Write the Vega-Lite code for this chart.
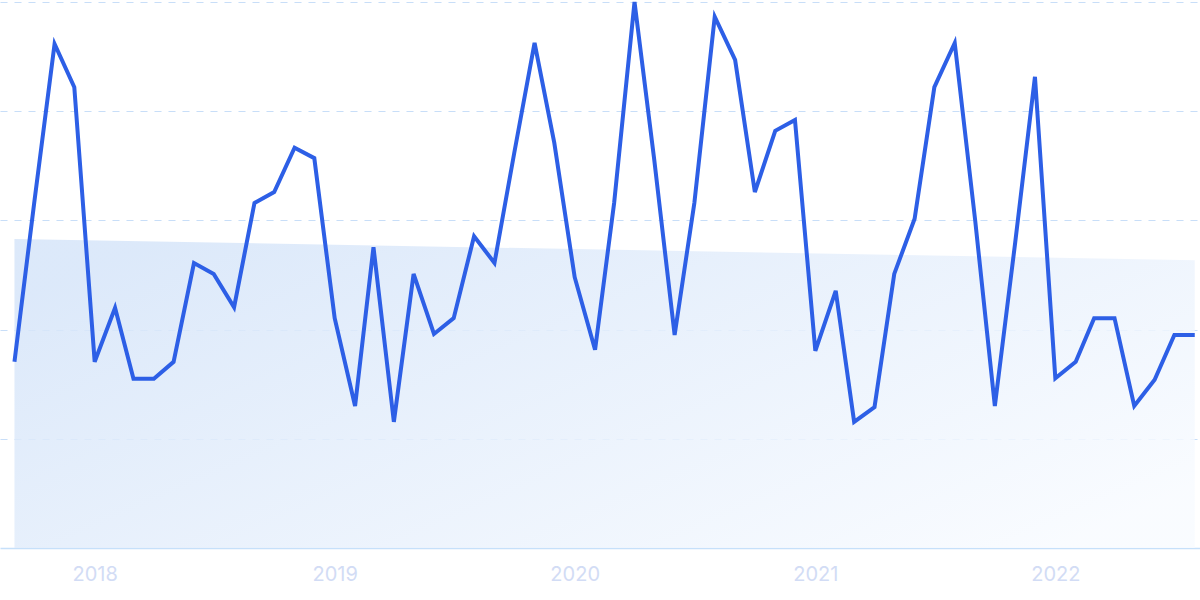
{
  "$schema": "https://vega.github.io/schema/vega-lite/v6.json",
  "width": 1200,
  "height": 546,
  "autosize": {"type": "none"},
  "padding": {"left": 0, "top": 2, "right": 0, "bottom": 52},
  "background": "white",
  "config": {"view": {"stroke": null}},
  "datasets": {
    "trend": [
      {"month": "2017-09-01", "value": 56.6},
      {"month": "2022-08-01", "value": 52.7}
    ],
    "series": [
      {"month": "2017-09-01", "value": 34.1},
      {"month": "2017-10-01", "value": 63.2},
      {"month": "2017-11-01", "value": 92.3},
      {"month": "2017-12-01", "value": 84.4},
      {"month": "2018-01-01", "value": 34.1},
      {"month": "2018-02-01", "value": 44.0},
      {"month": "2018-03-01", "value": 31.0},
      {"month": "2018-04-01", "value": 31.0},
      {"month": "2018-05-01", "value": 34.1},
      {"month": "2018-06-01", "value": 52.2},
      {"month": "2018-07-01", "value": 50.2},
      {"month": "2018-08-01", "value": 44.1},
      {"month": "2018-09-01", "value": 63.2},
      {"month": "2018-10-01", "value": 65.2},
      {"month": "2018-11-01", "value": 73.3},
      {"month": "2018-12-01", "value": 71.4},
      {"month": "2019-01-01", "value": 42.1},
      {"month": "2019-02-01", "value": 26.0},
      {"month": "2019-03-01", "value": 55.1},
      {"month": "2019-04-01", "value": 23.1},
      {"month": "2019-05-01", "value": 50.2},
      {"month": "2019-06-01", "value": 39.2},
      {"month": "2019-07-01", "value": 42.1},
      {"month": "2019-08-01", "value": 57.1},
      {"month": "2019-09-01", "value": 52.2},
      {"month": "2019-10-01", "value": 72.3},
      {"month": "2019-11-01", "value": 92.5},
      {"month": "2019-12-01", "value": 74.2},
      {"month": "2020-01-01", "value": 49.6},
      {"month": "2020-02-01", "value": 36.3},
      {"month": "2020-03-01", "value": 63.2},
      {"month": "2020-04-01", "value": 100},
      {"month": "2020-05-01", "value": 71.1},
      {"month": "2020-06-01", "value": 39.0},
      {"month": "2020-07-01", "value": 63.2},
      {"month": "2020-08-01", "value": 97.3},
      {"month": "2020-09-01", "value": 89.4},
      {"month": "2020-10-01", "value": 65.2},
      {"month": "2020-11-01", "value": 76.4},
      {"month": "2020-12-01", "value": 78.4},
      {"month": "2021-01-01", "value": 36.1},
      {"month": "2021-02-01", "value": 47.1},
      {"month": "2021-03-01", "value": 23.1},
      {"month": "2021-04-01", "value": 25.8},
      {"month": "2021-05-01", "value": 50.2},
      {"month": "2021-06-01", "value": 60.3},
      {"month": "2021-07-01", "value": 84.4},
      {"month": "2021-08-01", "value": 92.5},
      {"month": "2021-09-01", "value": 60.1},
      {"month": "2021-10-01", "value": 26.0},
      {"month": "2021-11-01", "value": 56.0},
      {"month": "2021-12-01", "value": 86.3},
      {"month": "2022-01-01", "value": 31.1},
      {"month": "2022-02-01", "value": 34.1},
      {"month": "2022-03-01", "value": 42.1},
      {"month": "2022-04-01", "value": 42.1},
      {"month": "2022-05-01", "value": 26.0},
      {"month": "2022-06-01", "value": 30.8},
      {"month": "2022-07-01", "value": 39.0},
      {"month": "2022-08-01", "value": 39.0}
    ]
  },
  "encoding": {
    "x": {
      "field": "month",
      "type": "temporal",
      "title": null,
      "scale": {
        "domain": [
          {"year": 2017, "month": 8, "date": 10},
          {"year": 2022, "month": 8, "date": 9}
        ]
      },
      "axis": {
        "values": [
          {"year": 2018, "month": 1, "date": 1},
          {"year": 2019, "month": 1, "date": 1},
          {"year": 2020, "month": 1, "date": 1},
          {"year": 2021, "month": 1, "date": 1},
          {"year": 2022, "month": 1, "date": 1}
        ],
        "format": "%Y",
        "grid": false,
        "ticks": false,
        "domain": true,
        "domainColor": "#c6e0fa",
        "domainWidth": 1.5,
        "labelColor": "#d2dcf5",
        "labelFont": "Inter",
        "labelFontSize": 20,
        "labelPadding": 16,
        "labelAlign": "center"
      }
    },
    "y": {
      "field": "value",
      "type": "quantitative",
      "title": null,
      "scale": {"domain": [0, 100], "nice": false, "zero": true},
      "axis": {
        "values": [20, 40, 60, 80, 100],
        "labels": false,
        "ticks": false,
        "domain": false,
        "grid": true,
        "gridColor": "#c8def8",
        "gridDash": [7, 7],
        "gridWidth": 1.2
      }
    }
  },
  "layer": [
    {
      "data": {"name": "trend"},
      "mark": {
        "type": "area",
        "opacity": 0.85,
        "fill": {
          "gradient": "linear",
          "x1": 0, "y1": 0.2, "x2": 1, "y2": 0.8,
          "stops": [
            {"offset": 0, "color": "#d6e5f9"},
            {"offset": 1, "color": "#f8fbff"}
          ]
        }
      }
    },
    {
      "data": {"name": "series"},
      "mark": {
        "type": "line",
        "color": "#2d5fe6",
        "strokeWidth": 4
      }
    }
  ]
}
